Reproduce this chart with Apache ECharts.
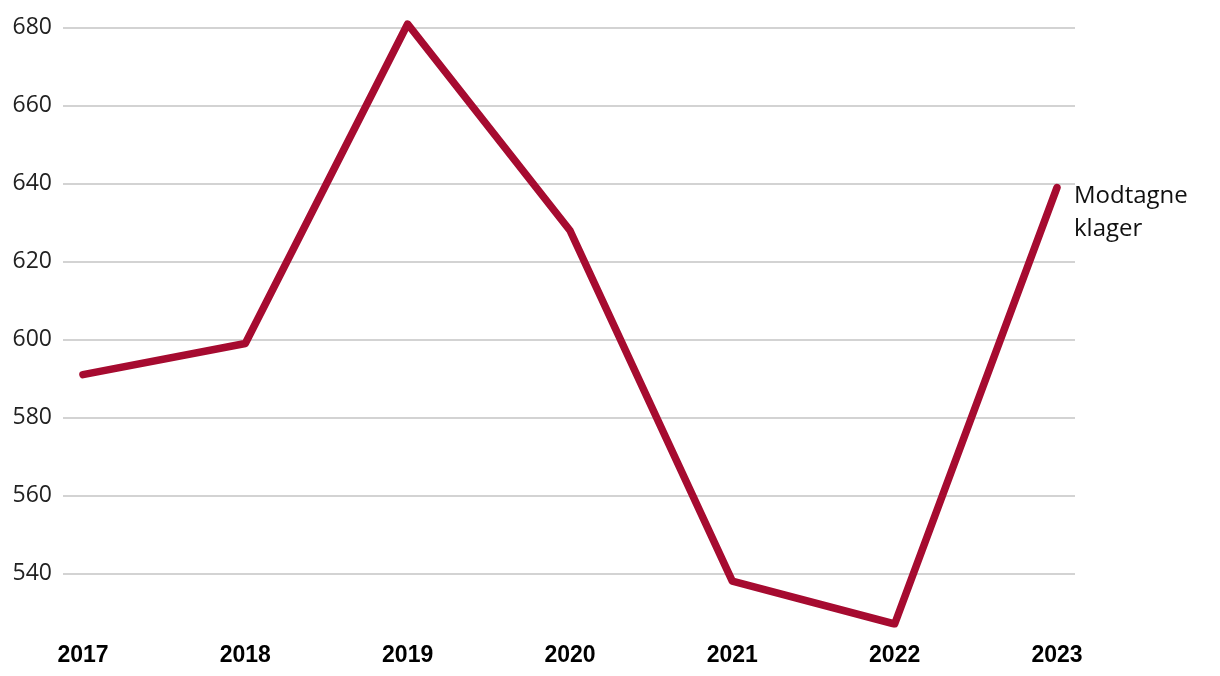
<!DOCTYPE html>
<html>
<head>
<meta charset="utf-8">
<script src="https://cdn.jsdelivr.net/npm/echarts@6/dist/echarts.min.js"></script>
<style>
  html, body { margin: 0; padding: 0; background: #fff; }
  #chart { width: 1220px; height: 676px; }
</style>
</head>
<body>
<div id="chart"></div>
<script>
// data
var years = [2017, 2018, 2019, 2020, 2021, 2022, 2023];
var klager = [591, 599, 681, 628, 538, 527, 639];
var yTicks = [540, 560, 580, 600, 620, 640, 660, 680];
var seriesName = "Modtagne\nklager";

var myChart = echarts.init(document.getElementById("chart"));

var option = {
  animation: false,
  grid: {
    left: 63,
    right: 145,
    top: 24,
    bottom: 52
  },
  xAxis: {
    type: "value",
    min: 2016.877,
    max: 2023.111,
    axisLine: { show: false },
    axisTick: { show: false, customValues: years },
    splitLine: { show: false },
    axisLabel: {
      customValues: years,
      formatter: function (v) { return String(v); },
      margin: 20,
      fontFamily: "Liberation Sans",
      fontWeight: "bold",
      fontSize: 23,
      color: "#000"
    }
  },
  yAxis: {
    type: "value",
    min: 527,
    max: 681,
    axisLine: { show: false },
    axisTick: { show: false, customValues: yTicks },
    axisLabel: {
      customValues: yTicks,
      margin: 11,
      fontFamily: "Open Sans",
      fontSize: 23,
      color: "#222"
    },
    splitLine: {
      lineStyle: { color: "#c4c4c4", width: 1.5 }
    }
  },
  series: [
    {
      name: seriesName,
      type: "line",
      data: years.map(function (y, i) { return [y, klager[i]]; }),
      showSymbol: false,
      symbol: "none",
      lineStyle: { color: "#a60b30", width: 7.5, cap: "round", join: "round" },
      endLabel: {
        show: true,
        formatter: seriesName,
        distance: 17,
        offset: [0, 25],
        fontFamily: "Open Sans",
        fontSize: 24,
        lineHeight: 33,
        color: "#111",
        align: "left"
      }
    }
  ]
};

myChart.setOption(option);
</script>
</body>
</html>
